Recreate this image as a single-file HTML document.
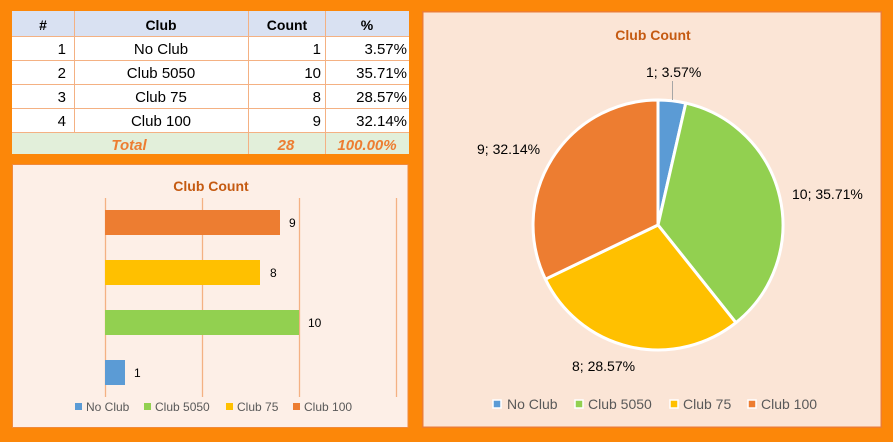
<!DOCTYPE html>
<html><head><meta charset="utf-8"><style>
html,body{margin:0;padding:0;background:#fc8709;}
svg{display:block;}
text{font-family:"Liberation Sans",Arial,sans-serif;}
</style></head><body>
<svg width="893" height="442" viewBox="0 0 893 442" xmlns="http://www.w3.org/2000/svg">
<rect x="0" y="0" width="893" height="442" fill="#fc8709"/>

<!-- TABLE -->
<rect x="12" y="11" width="397" height="25" fill="#d9e1f2"/>
<rect x="12" y="36" width="397" height="96" fill="#ffffff"/>
<rect x="12" y="132" width="397" height="22" fill="#e2efda"/>
<g stroke="#f4b183" stroke-width="1">
<line x1="12" y1="36.5" x2="409" y2="36.5"/>
<line x1="12" y1="60.5" x2="409" y2="60.5"/>
<line x1="12" y1="84.5" x2="409" y2="84.5"/>
<line x1="12" y1="108.5" x2="409" y2="108.5"/>
<line x1="12" y1="132.5" x2="409" y2="132.5"/>
<line x1="74.5" y1="11" x2="74.5" y2="132"/>
<line x1="248.5" y1="11" x2="248.5" y2="154"/>
<line x1="325.5" y1="11" x2="325.5" y2="154"/>
</g>
<g font-size="14" font-weight="bold" fill="#000" text-anchor="middle">
<text x="43" y="30">#</text>
<text x="161" y="30">Club</text>
<text x="287" y="30">Count</text>
<text x="367" y="30">%</text>
</g>
<g font-size="15" fill="#000">
<g text-anchor="end">
<text x="66" y="54">1</text><text x="66" y="78">2</text><text x="66" y="102">3</text><text x="66" y="126">4</text>
<text x="321" y="54">1</text><text x="321" y="78">10</text><text x="321" y="102">8</text><text x="321" y="126">9</text>
<text x="407" y="54">3.57%</text><text x="407" y="78">35.71%</text><text x="407" y="102">28.57%</text><text x="407" y="126">32.14%</text>
</g>
<g text-anchor="middle">
<text x="161" y="54">No Club</text><text x="161" y="78">Club 5050</text><text x="161" y="102">Club 75</text><text x="161" y="126">Club 100</text>
</g>
</g>
<g font-size="15" font-weight="bold" font-style="italic" fill="#ed7d31" text-anchor="middle">
<text x="129" y="150">Total</text>
<text x="286" y="150">28</text>
<text x="367" y="150">100.00%</text>
</g>

<!-- BAR CHART -->
<rect x="12.5" y="164.5" width="395.5" height="263" fill="#fdefe7" stroke="#f08a3c" stroke-width="1"/>
<text x="211" y="191" font-size="14" font-weight="bold" fill="#c55a11" text-anchor="middle">Club Count</text>
<g stroke="#f4b183" stroke-width="1.3">
<line x1="105.5" y1="198" x2="105.5" y2="397"/>
<line x1="202.5" y1="198" x2="202.5" y2="397"/>
<line x1="299.5" y1="198" x2="299.5" y2="397"/>
<line x1="396.5" y1="198" x2="396.5" y2="397"/>
</g>
<rect x="105" y="210" width="175" height="25" fill="#ed7d31"/>
<rect x="105" y="260" width="155" height="25" fill="#ffc000"/>
<rect x="105" y="310" width="194" height="25" fill="#92d050"/>
<rect x="105" y="360" width="20" height="25" fill="#5b9bd5"/>
<g font-size="12" fill="#000">
<text x="289" y="227">9</text>
<text x="270" y="277">8</text>
<text x="308" y="327">10</text>
<text x="134" y="377">1</text>
</g>
<rect x="75" y="403" width="7" height="7" fill="#5b9bd5"/>
<rect x="144" y="403" width="7" height="7" fill="#92d050"/>
<rect x="226" y="403" width="7" height="7" fill="#ffc000"/>
<rect x="293" y="403" width="7" height="7" fill="#ed7d31"/>
<g font-size="12" fill="#595959">
<text x="86" y="411">No Club</text>
<text x="155" y="411">Club 5050</text>
<text x="237" y="411">Club 75</text>
<text x="304" y="411">Club 100</text>
</g>

<!-- PIE CHART -->
<rect x="422.75" y="11.75" width="458.5" height="415.5" fill="#fbe5d6" stroke="#ed7d31" stroke-width="1.5"/>
<text x="653" y="40" font-size="14" font-weight="bold" fill="#c55a11" text-anchor="middle">Club Count</text>
<g stroke="#ffffff" stroke-width="3" stroke-linejoin="round">
<path d="M658,225 L658,100 A125,125 0 0 1 685.8,103.1 Z" fill="#5b9bd5"/>
<path d="M658,225 L685.8,103.1 A125,125 0 0 1 735.9,322.7 Z" fill="#92d050"/>
<path d="M658,225 L735.9,322.7 A125,125 0 0 1 545.4,279.2 Z" fill="#ffc000"/>
<path d="M658,225 L545.4,279.2 A125,125 0 0 1 658,100 Z" fill="#ed7d31"/>
</g>
<line x1="672.5" y1="81" x2="672.5" y2="100" stroke="#a6a6a6" stroke-width="1"/>
<g font-size="14" fill="#000">
<text x="646" y="77">1; 3.57%</text>
<text x="792" y="199">10; 35.71%</text>
<text x="477" y="154">9; 32.14%</text>
<text x="572" y="371">8; 28.57%</text>
</g>
<g stroke="#ffffff" stroke-width="1.5">
<rect x="493" y="400" width="8" height="8" fill="#5b9bd5"/>
<rect x="575" y="400" width="8" height="8" fill="#92d050"/>
<rect x="670" y="400" width="8" height="8" fill="#ffc000"/>
<rect x="748" y="400" width="8" height="8" fill="#ed7d31"/>
</g>
<g font-size="14" fill="#595959">
<text x="507" y="409">No Club</text>
<text x="588" y="409">Club 5050</text>
<text x="683" y="409">Club 75</text>
<text x="761" y="409">Club 100</text>
</g>
</svg>
</body></html>
